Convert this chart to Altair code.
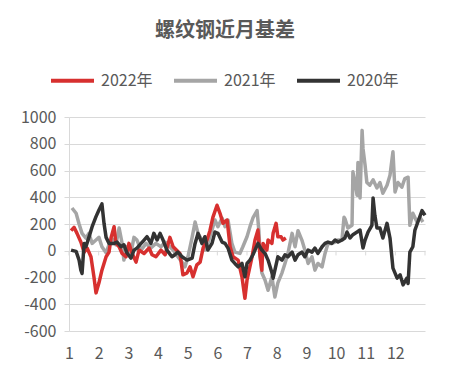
import altair as alt
import pandas as pd

# month position (1 = start of Jan, 13 = end of Dec) and basis values
m2022 = [1.07, 1.17, 1.27, 1.40, 1.51, 1.61, 1.74, 1.84, 1.91, 2.01, 2.11, 2.25, 2.35, 2.42, 2.52, 2.58,
         2.69, 2.79, 2.92, 3.02, 3.12, 3.26, 3.36, 3.53, 3.70, 3.80, 3.93, 4.10, 4.24, 4.40, 4.51, 4.74,
         4.84, 4.98, 5.08, 5.18, 5.31, 5.42, 5.52, 5.65, 5.75, 5.85, 5.99, 6.09, 6.19, 6.33, 6.43, 6.53,
         6.70, 6.83, 6.93, 7.00, 7.17, 7.27, 7.37, 7.44, 7.50, 7.54, 7.67, 7.71, 7.84, 7.88, 7.98, 8.04,
         8.15, 8.21, 8.31]
v2022 = [150, 175, 130, 65, -10, 20, -45, -195, -315, -240, -145, -45, -10, 100, 180, 55,
         30, -20, -45, 55, -15, -85, 5, -20, 20, -30, -45, 5, -30, 100, 30, -20,
         -180, -165, -120, -195, -105, -85, 20, 80, 150, 250, 340, 280, 205, 230, 30, -45,
         -70, -195, -355, -220, -45, 80, 155, -45, -145, 55, 5, 80, 55, 130, 205, 105,
         105, 80, 95]

m2021 = [1.10, 1.24, 1.34, 1.44, 1.57, 1.67, 1.78, 1.91, 2.01, 2.11, 2.25, 2.35, 2.45, 2.58, 2.69, 2.79,
         2.85, 2.95, 3.09, 3.19, 3.29, 3.43, 3.60, 3.76, 3.93, 4.10, 4.24, 4.51, 4.67, 4.81, 4.91, 5.01,
         5.15, 5.25, 5.35, 5.48, 5.58, 5.68, 5.82, 5.92, 6.02, 6.16, 6.26, 6.36, 6.49, 6.59, 6.76, 6.86,
         7.00, 7.10, 7.20, 7.34, 7.40, 7.44, 7.50, 7.61, 7.71, 7.84, 7.94, 8.04, 8.18, 8.28, 8.38, 8.52,
         8.62, 8.72, 8.85, 8.95, 9.06, 9.19, 9.29, 9.39, 9.53, 9.63, 9.73, 9.86, 9.97, 10.07, 10.20, 10.27,
         10.30, 10.40, 10.54, 10.57, 10.64, 10.71, 10.74, 10.81, 10.88, 10.91, 10.98, 11.04, 11.14, 11.25,
         11.38, 11.48, 11.58, 11.72, 11.82, 11.92, 11.99, 12.09, 12.22, 12.32, 12.43, 12.49, 12.59, 12.73,
         12.83, 12.93]
v2021 = [320, 280, 200, 130, 95, 130, 55, 80, 100, 30, -15, 45, 90, 45, 170, 55,
         -70, 30, -15, 100, 80, 5, 55, 20, 55, 30, 65, 5, -45, -85, -120, -45,
         100, 215, 130, 80, 5, 55, 155, 230, 180, 245, 180, 230, 55, -10, -20, 30,
         105, 180, 245, 300, 150, -20, -165, -220, -295, -195, -345, -240, -165, -95, -20, 130,
         30, 150, 80, 5, -95, -45, -145, -95, -120, -20, 55, 55, 65, 80, 80, 250,
         240, 170, 190, 590, 510, 415, 660, 395, 900, 765, 640, 510, 490, 530,
         470, 510, 430, 490, 565, 740, 440, 510, 475, 540, 550, 190, 280, 215,
         250, 215]

m2020 = [1.07, 1.24, 1.34, 1.40, 1.44, 1.51, 1.57, 1.67, 1.78, 1.91, 2.01, 2.11, 2.18, 2.25, 2.35, 2.52,
         2.62, 2.75, 2.85, 2.95, 3.09, 3.19, 3.29, 3.43, 3.53, 3.63, 3.76, 3.86, 3.97, 4.07, 4.17, 4.30,
         4.47, 4.57, 4.67, 4.81, 4.98, 5.15, 5.25, 5.35, 5.48, 5.58, 5.68, 5.82, 5.92, 6.02, 6.16, 6.26,
         6.36, 6.49, 6.59, 6.70, 6.83, 6.93, 7.00, 7.10, 7.20, 7.37, 7.50, 7.61, 7.71, 7.84, 7.88, 7.94,
         8.04, 8.18, 8.28, 8.38, 8.52, 8.62, 8.72, 8.85, 8.95, 9.06, 9.19, 9.29, 9.39, 9.53, 9.63, 9.73,
         9.86, 9.97, 10.07, 10.20, 10.30, 10.37, 10.47, 10.57, 10.71, 10.81, 10.91, 10.98, 11.08, 11.21,
         11.25, 11.31, 11.38, 11.48, 11.58, 11.72, 11.82, 11.92, 12.06, 12.16, 12.26, 12.39, 12.43, 12.49,
         12.59, 12.66, 12.76, 12.90, 13.00]
v2020 = [5, -5, -70, -145, -170, 55, 30, 100, 180, 255, 305, 350, 205, 100, 55, 55,
         65, 30, 45, -15, -55, 5, 20, 55, 80, 105, 55, 130, 80, 130, 80, 5,
         -45, -30, -10, -45, -70, -55, 55, 130, 55, 105, 5, 55, 140, 130, 65, 55,
         20, -70, -95, -120, -95, -195, -95, -70, -30, 55, 5, -20, -70, -165, -205, -145,
         -45, -70, -30, -45, -10, -70, -30, -10, -45, 5, -10, 20, -20, 30, 55, 65,
         55, 80, 65, 80, 95, 140, 95, 120, 140, 155, 20, 80, 140, 190,
         395, 265, 170, 170, 95, 205, 95, -130, -205, -180, -255, -205, -245, -10,
         30, 155, 215, 300, 265]

series = ["2022年", "2021年", "2020年"]
colors = ["#d7302f", "#a5a5a5", "#333333"]
month_ticks = list(range(1, 13))
month_edges = list(range(1, 14))
y_ticks = list(range(-600, 1001, 200))

def frame(ms, vs, name):
    return pd.DataFrame({"month": ms, "value": vs, "series": name})

df22 = frame(m2022, v2022, series[0])
df21 = frame(m2021, v2021, series[1])
df20 = frame(m2020, v2020, series[2])

FONT = "Noto Sans CJK SC"
TXT = "#595959"
GRID = "#d9d9d9"

xscale = alt.Scale(domain=[1, 13], nice=False, zero=False)
yscale = alt.Scale(domain=[-600, 1000], nice=False)
cscale = alt.Scale(domain=series, range=colors)

xaxis = alt.Axis(values=month_ticks, title=None, grid=False, domain=False,
                 labelExpr="datum.value + ''",
                 ticks=False, labelPadding=14, labelFontSize=16, labelColor=TXT, labelFont=FONT,
                 labelFlush=False)
yaxis = alt.Axis(values=y_ticks, title=None, grid=True, gridColor=GRID, gridWidth=1,
                 labelExpr="datum.value + ''",
                 domain=True, domainColor=GRID, ticks=True, tickColor=GRID, tickSize=5,
                 labelPadding=8, labelFontSize=16, labelColor=TXT, labelFont=FONT)

legend = alt.Legend(title=None, orient="none", direction="horizontal",
                    legendX=-20, legendY=-60, symbolType="stroke",
                    symbolSize=1849, symbolStrokeWidth=4,
                    labelFontSize=16, labelColor=TXT, labelFont=FONT,
                    labelOffset=5, columnPadding=13, padding=0)

def line(df):
    return alt.Chart(df).mark_line(strokeWidth=3.5, strokeJoin="round").encode(
        x=alt.X("month:Q", scale=xscale, axis=xaxis),
        y=alt.Y("value:Q", scale=yscale, axis=yaxis),
        color=alt.Color("series:N", scale=cscale, sort=series, legend=legend),
    )

ticks_df = pd.DataFrame({"month": month_edges})
zero_ticks = alt.Chart(ticks_df).mark_rule(color=GRID, strokeWidth=1).encode(
    x=alt.X("month:Q", scale=xscale, axis=xaxis),
    y=alt.datum(0, scale=yscale, axis=yaxis),
    y2=alt.datum(-35),
)

chart = alt.layer(zero_ticks, line(df21), line(df22), line(df20)).properties(
    width=356, height=214,
    title=alt.TitleParams("螺纹钢近月基差", anchor="middle", fontSize=20, font=FONT,
                          color=TXT, fontWeight="bold", dx=-22, offset=16),
    autosize=alt.AutoSizeParams(type="none"),
    padding={"left": 61, "top": 109, "right": 16, "bottom": 42},
).configure_view(stroke=None)

chart.save("out.html", embed_options={"renderer": "svg", "actions": False})
